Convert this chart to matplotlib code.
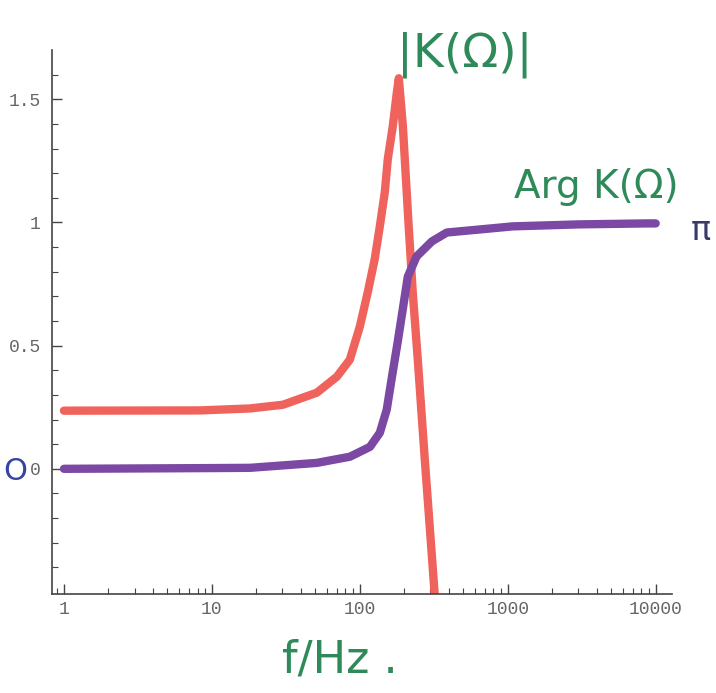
import matplotlib
matplotlib.use("Agg")
import matplotlib.pyplot as plt
from matplotlib.ticker import FixedLocator, NullFormatter, LogLocator

# |K| magnitude curve (red)
mag_f = [1, 8.3, 18.1, 30.2, 51.2, 70, 85.6, 100, 113, 126, 136.5, 147.5, 154.5, 167,
         178, 183.5, 195.5, 214, 228, 246.5, 275, 329]
mag_v = [0.236, 0.237, 0.245, 0.260, 0.309, 0.374, 0.443, 0.577, 0.715, 0.850, 0.984,
         1.122, 1.256, 1.390, 1.528, 1.585, 1.390, 0.984, 0.715, 0.443, 0.037, -0.6]

# Arg K phase curve (purple), in units of pi
arg_f = [1, 10, 18.1, 51.2, 85.6, 117, 136.5, 152, 165, 180, 195, 211, 242, 307, 387,
         1081, 3000, 8690, 10000]
arg_v = [0.0, 0.003, 0.004, 0.024, 0.049, 0.089, 0.146, 0.24, 0.374, 0.512, 0.646,
         0.78, 0.862, 0.923, 0.959, 0.984, 0.992, 0.996, 0.996]

x_ticks = [1, 10, 100, 1000, 10000]
x_labels = ["1", "10", "100", "1000", "10000"]
y_ticks = [0, 0.5, 1, 1.5]
y_labels = ["0", "0.5", "1", "1.5"]

fig = plt.figure(figsize=(7.16, 6.93), dpi=100)
ax = fig.add_axes([0.0726, 0.1429, 0.866, 0.785])

ax.plot(mag_f, mag_v, color="#f0625c", lw=6, solid_capstyle="round", solid_joinstyle="round")
ax.plot(arg_f, arg_v, color="#7b48a3", lw=6, solid_capstyle="round", solid_joinstyle="round")

ax.set_xscale("log")
ax.set_xlim(0.83, 12900)
ax.set_ylim(-0.508, 1.70)

for s in ["top", "right"]:
    ax.spines[s].set_visible(False)
for s in ["left", "bottom"]:
    ax.spines[s].set_color("#444444")
    ax.spines[s].set_linewidth(1.2)

ax.xaxis.set_major_locator(FixedLocator(x_ticks))
ax.set_xticklabels(x_labels)
ax.xaxis.set_minor_locator(LogLocator(base=10, subs=range(2, 10)))
ax.xaxis.set_minor_formatter(NullFormatter())
ax.yaxis.set_major_locator(FixedLocator(y_ticks))
ax.set_yticklabels(y_labels)
ax.yaxis.set_minor_locator(FixedLocator([-0.4, -0.3, -0.2, -0.1, 0.1, 0.2, 0.3, 0.4,
                                         0.6, 0.7, 0.8, 0.9, 1.1, 1.2, 1.3, 1.4, 1.6]))

ax.tick_params(which="major", direction="in", length=7, width=1, color="#444444",
               labelsize=13, labelcolor="#666666")
ax.tick_params(axis="x", which="major", pad=5)
ax.tick_params(axis="y", which="major", pad=8)
ax.tick_params(which="minor", direction="in", length=4, width=0.8, color="#444444")
for lab in ax.get_xticklabels() + ax.get_yticklabels():
    lab.set_family("Liberation Mono")

green = "#2f8a5a"
fig.text(465 / 716, 1 - 55 / 693, "|K(Ω)|", color=green, fontsize=34, ha="center", va="center")
fig.text(596 / 716, 1 - 187 / 693, "Arg K(Ω)", color=green, fontsize=28, ha="center", va="center")
fig.text(701 / 716, 1 - 230 / 693, "π", color="#3a3a6a", fontsize=24, ha="center", va="center")
fig.text(15 / 716, 1 - 472 / 693, "O", color="#3444a0", fontsize=22, ha="center", va="center")
fig.text(340 / 716, 1 - 660 / 693, "f/Hz .", color=green, fontsize=32, ha="center", va="center")

fig.savefig("out.png", dpi=100)
